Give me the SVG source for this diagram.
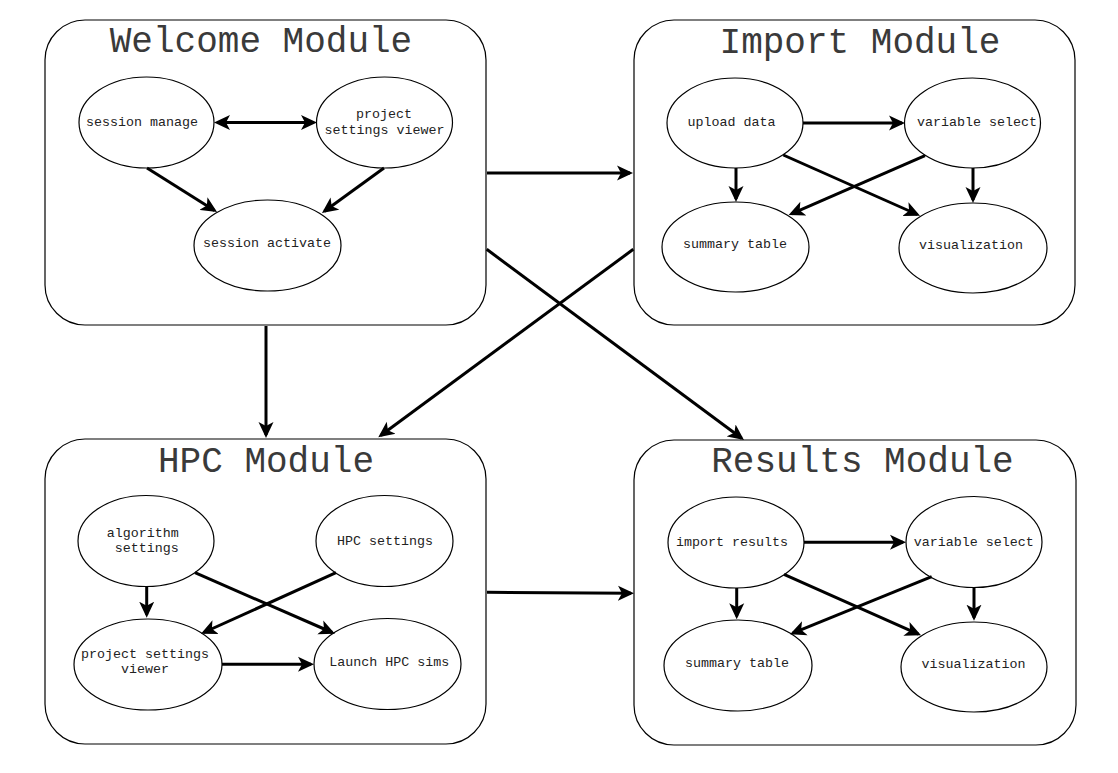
<svg xmlns="http://www.w3.org/2000/svg" width="1118" height="773" viewBox="0 0 1118 773">
<style>
.box{fill:#fff;stroke:#000;stroke-width:1.2}
.el{fill:#fff;stroke:#000;stroke-width:1.2}
.title{font-family:"Liberation Mono","Courier New",monospace;font-size:36px;fill:#3a3a3a;text-anchor:middle}
.lbl{font-family:"Liberation Mono","Courier New",monospace;font-size:13.33px;fill:#222;text-anchor:middle}
.c{stroke:#000;stroke-width:3;fill:none;marker-end:url(#ah)}
.d{marker-start:url(#ah)}
</style>
<defs>
<marker id="ah" viewBox="0 0 16 16" markerWidth="16" markerHeight="16" refX="13" refY="8" orient="auto-start-reverse" markerUnits="userSpaceOnUse">
<path d="M0,0.5 L16,8 L0,15.5 L4,8 Z" fill="#000"/>
</marker>
</defs>
<rect width="1118" height="773" fill="#fff"/>

<g id="welcome">
<rect class="box" x="45" y="20" width="441" height="305" rx="40" ry="40"/>
<text class="title" x="261" y="52.3">Welcome Module</text>
</g>
<g id="session-manage">
<ellipse class="el" cx="146.5" cy="122.5" rx="67.5" ry="45.5"/>
<text class="lbl" x="142" y="126">session manage</text>
</g>
<g id="project-settings-viewer-w">
<ellipse class="el" cx="384.5" cy="122.5" rx="68" ry="45.5"/>
<text class="lbl" x="384" y="117.5">project</text>
<text class="lbl" x="384.5" y="133.5">settings viewer</text>
</g>
<g id="session-activate">
<ellipse class="el" cx="267.5" cy="245.5" rx="73.5" ry="45.5"/>
<text class="lbl" x="267" y="246.7">session activate</text>
</g>

<g id="import">
<rect class="box" x="634" y="20" width="441" height="305" rx="40" ry="40"/>
<text class="title" x="860" y="53.3">Import Module</text>
</g>
<g id="upload-data">
<ellipse class="el" cx="735" cy="123" rx="68" ry="45"/>
<text class="lbl" x="731.5" y="126">upload data</text>
</g>
<g id="variable-select-i">
<ellipse class="el" cx="972.5" cy="123" rx="68" ry="45"/>
<text class="lbl" x="977" y="126">variable select</text>
</g>
<g id="summary-table-i">
<ellipse class="el" cx="735.5" cy="247" rx="73.5" ry="45"/>
<text class="lbl" x="735" y="248">summary table</text>
</g>
<g id="visualization-i">
<ellipse class="el" cx="973" cy="248" rx="74" ry="45"/>
<text class="lbl" x="971" y="249">visualization</text>
</g>

<g id="hpc">
<rect class="box" x="45" y="439" width="441" height="305" rx="40" ry="40"/>
<text class="title" x="266" y="471.7">HPC Module</text>
</g>
<g id="algorithm-settings">
<ellipse class="el" cx="146" cy="541" rx="68" ry="45.5"/>
<text class="lbl" x="142.7" y="536.7">algorithm</text>
<text class="lbl" x="146.7" y="552.3">settings</text>
</g>
<g id="hpc-settings">
<ellipse class="el" cx="384.5" cy="541" rx="68.5" ry="45.5"/>
<text class="lbl" x="385" y="545">HPC settings</text>
</g>
<g id="project-settings-viewer-h">
<ellipse class="el" cx="148" cy="664.5" rx="74" ry="45.5"/>
<text class="lbl" x="145" y="657.7">project settings</text>
<text class="lbl" x="145" y="673.3">viewer</text>
</g>
<g id="launch-hpc-sims">
<ellipse class="el" cx="387.5" cy="664" rx="73.5" ry="45.5"/>
<text class="lbl" x="389.3" y="665.7">Launch HPC sims</text>
</g>

<g id="results">
<rect class="box" x="634" y="440" width="442" height="305" rx="40" ry="40"/>
<text class="title" x="862.5" y="471.7">Results Module</text>
</g>
<g id="import-results">
<ellipse class="el" cx="736" cy="542.5" rx="68" ry="45.5"/>
<text class="lbl" x="732" y="545.7">import results</text>
</g>
<g id="variable-select-r">
<ellipse class="el" cx="974" cy="542" rx="68" ry="45.5"/>
<text class="lbl" x="973.7" y="545.7">variable select</text>
</g>
<g id="summary-table-r">
<ellipse class="el" cx="738" cy="665.5" rx="74" ry="45.5"/>
<text class="lbl" x="737" y="666.7">summary table</text>
</g>
<g id="visualization-r">
<ellipse class="el" cx="974" cy="667" rx="73" ry="45"/>
<text class="lbl" x="973.5" y="668.3">visualization</text>
</g>

<g id="connectors">
<line class="c d" x1="217" y1="122.5" x2="314" y2="122.5"/>
<line class="c" x1="147" y1="168" x2="214.5" y2="210.4"/>
<line class="c" x1="384" y1="168" x2="324.4" y2="211.2"/>

<line class="c" x1="803" y1="123" x2="902" y2="123"/>
<line class="c" x1="736" y1="168" x2="736" y2="199"/>
<line class="c" x1="973" y1="168" x2="973" y2="200"/>
<line class="c" x1="783.3" y1="155" x2="917.3" y2="214.5"/>
<line class="c" x1="925" y1="155.7" x2="791.4" y2="213.8"/>

<line class="c" x1="146.7" y1="587" x2="146.7" y2="614.7"/>
<line class="c" x1="336" y1="572.7" x2="203.7" y2="632.5"/>
<line class="c" x1="195" y1="572.7" x2="332.2" y2="632.5"/>
<line class="c" x1="222" y1="664.3" x2="311" y2="664.3"/>

<line class="c" x1="804" y1="542.3" x2="903" y2="542.3"/>
<line class="c" x1="736.7" y1="588" x2="736.7" y2="616.3"/>
<line class="c" x1="974" y1="588" x2="974" y2="617.7"/>
<line class="c" x1="784" y1="574.3" x2="918.3" y2="634.1"/>
<line class="c" x1="931.7" y1="576.7" x2="792.8" y2="633.2"/>

<line class="c" x1="487" y1="173" x2="630" y2="173"/>
<line class="c" x1="266" y1="326" x2="266" y2="435"/>
<line class="c" x1="633.3" y1="249.3" x2="380.7" y2="435.5"/>
<line class="c" x1="486.7" y1="249.3" x2="741.6" y2="438.2"/>
<line class="c" x1="487" y1="592.3" x2="631" y2="593.3"/>
</g>
</svg>
